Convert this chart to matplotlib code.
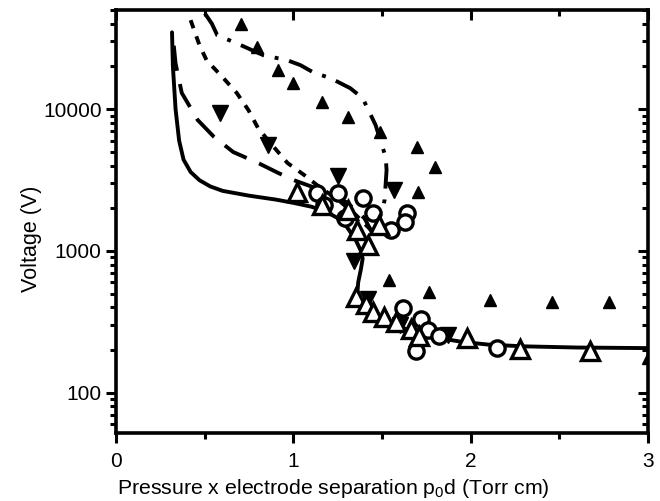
import matplotlib
matplotlib.use("Agg")
import matplotlib.pyplot as plt
from matplotlib.ticker import FixedLocator, FuncFormatter, LogLocator, NullFormatter

plt.rcParams['font.family'] = ['Liberation Sans', 'DejaVu Sans']

# model curves
solid_x = [0.315, 0.32, 0.335, 0.355, 0.38, 0.42, 0.47, 0.53, 0.60, 0.75, 0.90, 1.00, 1.10,
           1.18, 1.25, 1.30, 1.35, 1.38, 1.39, 1.38, 1.365, 1.36, 1.37, 1.40, 1.45,
           1.52, 1.60, 1.70, 1.80, 1.95, 2.10, 2.30, 2.60, 3.0]
solid_y = [34800, 20000, 10000, 6000, 4400, 3600, 3150, 2850, 2650, 2450, 2300, 2180, 2050,
           1900, 1700, 1480, 1200, 1000, 880, 740, 600, 500, 430, 380, 340,
           310, 290, 265, 245, 228, 218, 212, 208, 206]

dash_x = [0.325, 0.335, 0.37, 0.46, 0.55, 0.66, 0.80, 0.915, 1.0, 1.15, 1.30, 1.40, 1.45]
dash_y = [28000, 21000, 13000, 8370, 6400, 4980, 4170, 3540, 3160, 2700, 2200, 1700, 1300]

sdash_x = [0.42, 0.47, 0.51, 0.60, 0.68, 0.746, 0.80, 0.87, 0.966, 1.06, 1.15, 1.25, 1.35, 1.45]
sdash_y = [42400, 28200, 22100, 16800, 13000, 9840, 7350, 5760, 4170, 3430, 2800, 2300, 1800, 1350]

dd_x = [0.50, 0.54, 0.57, 0.68, 0.83, 0.966, 1.04, 1.11, 1.21, 1.32, 1.39, 1.463, 1.52, 1.525, 1.514, 1.50]
dd_y = [47400, 40000, 33200, 29100, 24000, 22100, 20400, 18200, 16500, 14050, 11950, 7720, 4590, 3720, 2290, 1900]

# measurements
tri_small_x = [0.706, 0.797, 0.91, 1.0, 1.16, 1.305, 1.486, 1.695, 1.80, 1.70, 1.537, 1.763, 2.11, 2.46, 2.78, 3.0]
tri_small_y = [39700, 27400, 18800, 15200, 11200, 8790, 6890, 5400, 3900, 2600, 625, 514, 452, 437, 437, 175]

tri_down_x = [0.588, 0.859, 1.25, 1.565, 1.339, 1.42, 1.60, 1.87]
tri_down_y = [9370, 5570, 3400, 2690, 850, 460, 300, 255]

circ_x = [1.13, 1.25, 1.17, 1.29, 1.39, 1.45, 1.55, 1.64, 1.63, 1.616, 1.72, 1.76, 1.82, 1.69, 2.15]
circ_y = [2560, 2560, 2110, 1710, 2370, 1850, 1410, 1850, 1600, 398, 328, 278, 249, 195, 208]

tri_open_x = [1.02, 1.16, 1.31, 1.36, 1.42, 1.48, 1.35, 1.41, 1.45, 1.51, 1.58, 1.66, 1.71, 1.98, 2.28, 2.67]
tri_open_y = [2600, 2110, 1940, 1410, 1100, 1530, 470, 420, 370, 340, 315, 280, 250, 244, 204, 195]

fig = plt.figure(figsize=(6.6, 5.01), dpi=100)
ax = fig.add_axes([0.176, 0.136, 0.806, 0.844])

lw = 2.8
ax.plot(solid_x, solid_y, color='black', lw=lw, solid_capstyle='round')
ax.plot(dash_x, dash_y, color='black', lw=lw, dashes=(6.5, 3.5))
ax.plot(sdash_x, sdash_y, color='black', lw=lw, dashes=(2.2, 2.2))
ax.plot(dd_x, dd_y, color='black', lw=lw, dashes=(6.5, 2.8, 1.0, 2.8))

ax.plot(tri_small_x, tri_small_y, '^', color='black', ms=8, ls='none')
ax.plot(tri_down_x, tri_down_y, 'v', color='black', ms=12, ls='none')
ax.plot(circ_x, circ_y, 'o', mfc='white', mec='black', mew=2.4, ms=11, ls='none')
ax.plot(tri_open_x, tri_open_y, '^', mfc='white', mec='black', mew=2.4, ms=12.5, ls='none')

ax.set_yscale('log')
ax.set_xlim(0, 3)
ax.set_ylim(52, 50000)

ax.xaxis.set_major_locator(FixedLocator([0, 1, 2, 3]))
ax.xaxis.set_minor_locator(FixedLocator([0.5, 1.5, 2.5]))
ax.yaxis.set_major_locator(FixedLocator([100, 1000, 10000]))
ax.yaxis.set_minor_locator(LogLocator(base=10, subs=range(2, 10)))
ax.yaxis.set_major_formatter(FuncFormatter(lambda v, p: f"{int(round(v))}"))
ax.yaxis.set_minor_formatter(NullFormatter())

for s in ax.spines.values():
    s.set_linewidth(2.6)

ax.tick_params(which='both', direction='out', width=2.2, labelsize=15)
ax.tick_params(which='major', length=7)
ax.tick_params(which='minor', length=4)
ax.tick_params(axis='x', which='major', pad=7)
ax.tick_params(which='both', top=True, right=True)

# top and right ticks point inward
for t in ax.xaxis.get_major_ticks() + ax.xaxis.get_minor_ticks():
    t.tick2line.set_marker(3)
for t in ax.yaxis.get_major_ticks() + ax.yaxis.get_minor_ticks():
    t.tick2line.set_marker(0)

ax.set_xlabel("Pressure x electrode separation p$_{\\mathregular{0}}$d (Torr cm)", fontsize=15.3)
ax.set_ylabel("Voltage (V)", fontsize=15.5)
ax.xaxis.set_label_coords(0.408, -0.104)
ax.yaxis.set_label_coords(-0.14, 0.459)

fig.savefig("out.png", dpi=100)
